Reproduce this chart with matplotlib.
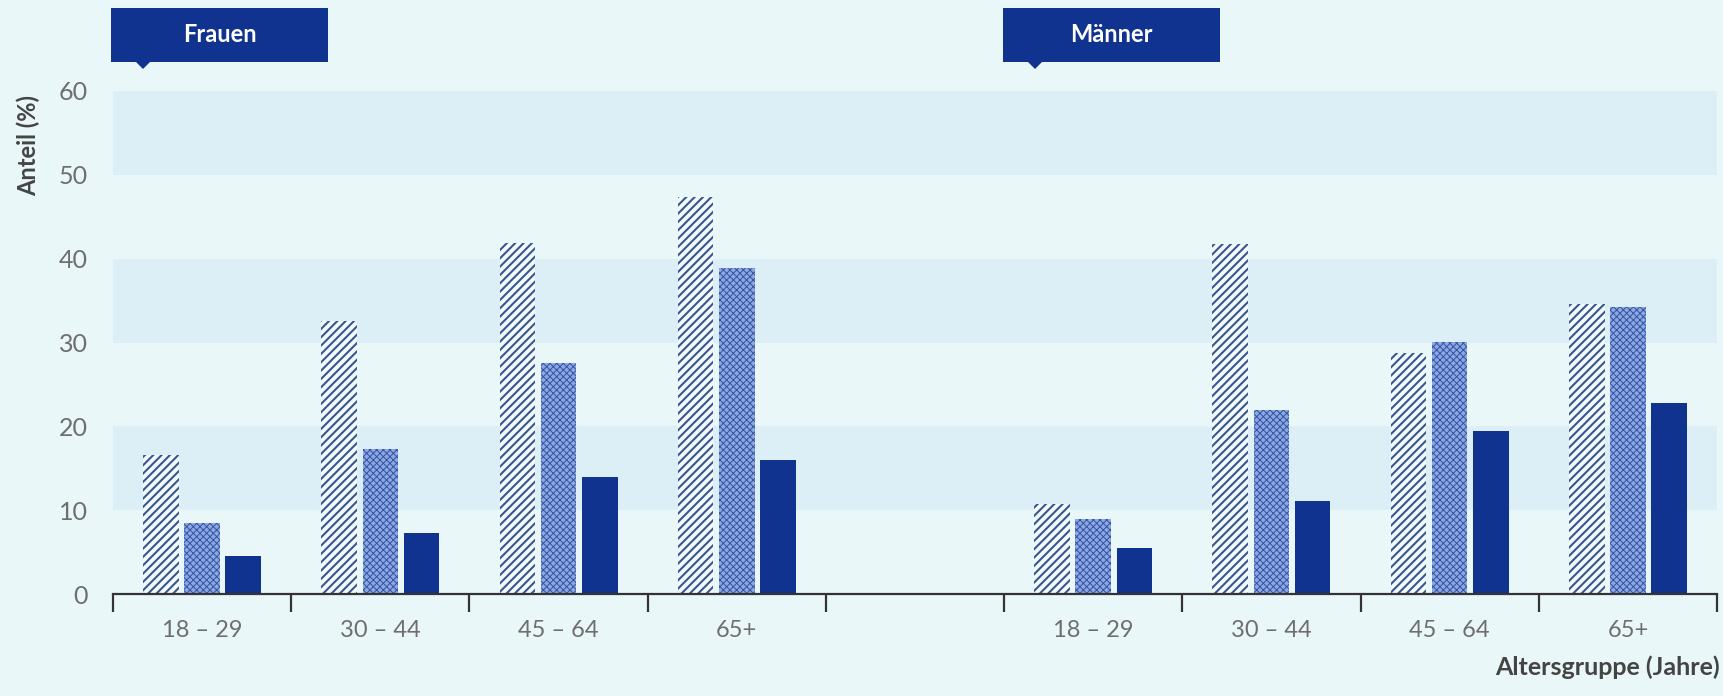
import numpy as np
import matplotlib
matplotlib.use('Agg')
import matplotlib.pyplot as plt
from matplotlib.patches import Rectangle, Polygon

plt.rcParams['font.family'] = ['Lato', 'DejaVu Sans']

# Daten (Anteil in %)
gruppen = ['18 – 29', '30 – 44', '45 – 64', '65+']
frauen_a = [16.6, 32.6, 41.9, 47.4]
frauen_b = [8.5, 17.3, 27.5, 38.9]
frauen_c = [4.5, 7.3, 13.9, 16.0]
maenner_a = [10.7, 41.7, 28.7, 34.6]
maenner_b = [8.9, 21.9, 30.1, 34.2]
maenner_c = [5.5, 11.1, 19.4, 22.8]
yticks = [0, 10, 20, 30, 40, 50, 60]

bg = '#EAF7F9'
band = '#DCEFF7'
navy = '#10338F'
grey = '#6E6E6E'

W, H = 1723, 696
fig = plt.figure(figsize=(W / 100, H / 100), dpi=100, facecolor=bg)
ax = fig.add_axes([113 / W, 1 - 594 / H, (1717 - 113) / W, (594 - 91) / H])
ax.set_facecolor(bg)

for lo in [10, 30, 50]:
    ax.axhspan(lo, lo + 10, color=band, lw=0, zorder=0)

slots_f = np.arange(4) + 0.5
slots_m = np.arange(5, 9) + 0.5
x = np.concatenate([slots_f, slots_m])
a = frauen_a + maenner_a
b = frauen_b + maenner_b
c = frauen_c + maenner_c
off = 0.231
w = 0.2

with plt.rc_context({'hatch.linewidth': 1.5}):
    ax.bar(x - off, a, w, facecolor='#F4F9FC', edgecolor='#3A5690', hatch='////', lw=0, zorder=2)
with plt.rc_context({'hatch.linewidth': 0.7}):
    ax.bar(x, b, w, facecolor='#8CA8E4', edgecolor='#34529F', hatch='xxxxx', lw=0, zorder=2)
ax.bar(x + off, c, w, facecolor=navy, lw=0, zorder=2)

ax.set_xlim(0, 9)
ax.set_ylim(0, 60)
for s in ['left', 'top', 'right']:
    ax.spines[s].set_visible(False)
ax.spines['bottom'].set_color('#333333')
ax.spines['bottom'].set_linewidth(1.6)
ax.spines['bottom'].set_zorder(3)

ax.set_xticks(np.arange(10))
ax.set_xticklabels([])
ax.tick_params(axis='x', which='major', length=13, width=1.6, color='#333333', direction='out')
ax.set_xticks(x, minor=True)
ax.set_xticklabels(gruppen + gruppen, minor=True)
ax.tick_params(axis='x', which='minor', length=0, pad=19, labelsize=17, labelcolor=grey)

ax.set_yticks(yticks)
ax.tick_params(axis='y', length=0, pad=18, labelsize=18, labelcolor=grey)

fig.text(28 / W, 1 - 145 / H, 'Anteil (%)', rotation=90, ha='center', va='center',
         fontsize=17, fontweight='bold', color='#444444')
fig.text(1720 / W, 1 - 667 / H, 'Altersgruppe (Jahre)', ha='right', va='center',
         fontsize=18, fontweight='bold', color='#444444')

# Beschriftungskästen
def kasten(x0, text):
    x1 = x0 + 217
    fig.patches.append(Rectangle((x0 / W, 1 - 62 / H), (x1 - x0) / W, 54 / H,
                                 transform=fig.transFigure, facecolor=navy, lw=0))
    px = x0 + 32
    fig.patches.append(Polygon([((px - 7) / W, 1 - 62 / H), ((px + 7) / W, 1 - 62 / H),
                                (px / W, 1 - 69 / H)], closed=True,
                               transform=fig.transFigure, facecolor=navy, lw=0))
    fig.text((x0 + x1) / 2 / W, 1 - 35 / H, text, ha='center', va='center',
             fontsize=17, fontweight='bold', color='white')

kasten(111, 'Frauen')
kasten(1003, 'Männer')

fig.savefig('out.png', dpi=100, facecolor=bg)
